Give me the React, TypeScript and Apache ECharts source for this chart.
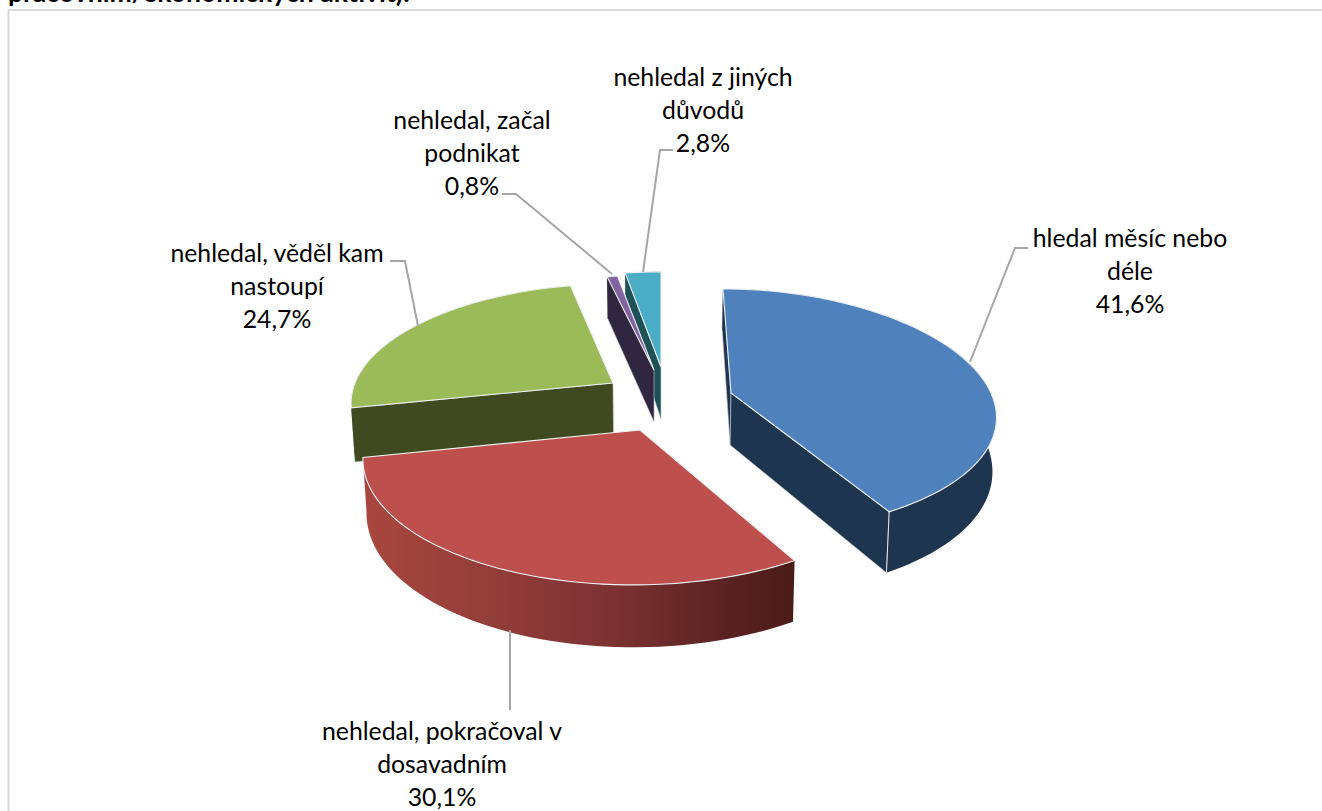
import React, { useEffect, useRef } from "react";
import * as echarts from "echarts";

const categoryLines = [
  ["hledal měsíc nebo", "déle"],
  ["nehledal, pokračoval v", "dosavadním"],
  ["nehledal, věděl kam", "nastoupí"],
  ["nehledal, začal", "podnikat"],
  ["nehledal z jiných", "důvodů"],
];
const shareValues = [41.6, 30.1, 24.7, 0.8, 2.8];
const titleTail = "pracovním/ekonomických aktivit):";

// rendering geometry of the exploded 3-D pie (not data)
type Geo = {
  ax: number; ay: number; rx: number; ry: number; p: number; px: number; sh: number;
  top: string; wall: any; face: string; rank: number; faces: number[];
  label: [number, number]; leader: number[][];
};
const VX = 660;
const HEIGHT = 52;
const redGradient = new echarts.graphic.LinearGradient(
  364, 0, 794, 0,
  [
    { offset: 0, color: "#a9473f" },
    { offset: 0.35, color: "#8e3b38" },
    { offset: 0.6, color: "#7a3031" },
    { offset: 0.8, color: "#5e2524" },
    { offset: 1, color: "#4a1b18" },
  ],
  true
);
const geometry: Geo[] = [
  { ax: 731, ay: 393, rx: 260, ry: 122, p: 0.147, px: 0.18, sh: 8, top: "#4f81bd", wall: "#1e3550", face: "#1e3550", rank: 4, faces: [0, 1], label: [1130, 238], leader: [[970, 362], [1015, 248], [1028, 248]] },
  { ax: 640, ay: 430, rx: 270, ry: 128, p: 0.21, px: 0.21, sh: -7, top: "#bd4f4c", wall: redGradient, face: "#8e3b38", rank: 5, faces: [], label: [442, 731], leader: [[510, 630], [510, 710]] },
  { ax: 613, ay: 383, rx: 258, ry: 117, p: 0.15, px: 0.15, sh: -7, top: "#9bbb59", wall: "#3f4a20", face: "#3f4a20", rank: 1, faces: [0], label: [277, 253], leader: [[418, 326], [405, 261], [390, 261]] },
  { ax: 654, ay: 370, rx: 245, ry: 112, p: 0.15, px: 0.15, sh: 0, top: "#8064a2", wall: "#30263f", face: "#30263f", rank: 3, faces: [0], label: [472, 120], leader: [[612, 274], [516, 194], [502, 194]] },
  { ax: 661, ay: 367, rx: 240, ry: 112, p: 0.15, px: 0.15, sh: 0, top: "#4bacc6", wall: "#1e5058", face: "#1e5058", rank: 2, faces: [0], label: [703, 77], leader: [[643, 272], [660, 150], [673, 150]] },
];

const FONT = '24.8px Lato, Carlito, Calibri, "Open Sans", sans-serif';
const LINE_H = 33;

function project(g: Geo, deg: number): number[] {
  const t = (deg * Math.PI) / 180;
  const c = -Math.cos(t);
  return [g.ax + g.rx * Math.sin(t) * (1 + g.px * c) + g.sh * c, g.ay + g.ry * c * (1 + g.p * c), c];
}
function drop(pt: number[], c: number): number[] {
  return [pt[0] + (VX - pt[0]) * 0.012, pt[1] + HEIGHT * (1 + 0.2 * c)];
}

function renderSlice(params: any, api: any) {
  const i = params.dataIndex;
  const value = api.value(0);
  const total = shareValues.reduce((a, b) => a + b, 0);
  const before = shareValues.slice(0, i).reduce((a, b) => a + b, 0);
  const start = (before / total) * 360;
  const end = ((before + value) / total) * 360;
  const g = geometry[i];
  const z = g.rank * 10;

  const arc: number[][] = [];
  const steps = Math.max(2, Math.ceil((end - start) / 2));
  for (let k = 0; k <= steps; k++) arc.push(project(g, start + ((end - start) * k) / steps));
  const topPts = arc.map((p) => [p[0], p[1]]);
  const botPts = arc.map((p) => drop(p, p[2]));
  const apex = [g.ax, g.ay];
  const apexB = drop([g.ax, g.ay], 0);

  const children: any[] = [];
  const ends = [0, steps];
  g.faces.forEach((f) => {
    const e = ends[f];
    children.push({
      type: "polygon", z2: z,
      shape: { points: [apex, topPts[e], botPts[e], apexB] },
      style: { fill: g.face, stroke: "#c8ccd4", lineWidth: 0.6 },
    });
  });
  children.push({
    type: "polygon", z2: z + 1,
    shape: { points: [...topPts, ...botPts.slice().reverse()] },
    style: { fill: g.wall },
  });
  if (i === 0) {
    children.push({
      type: "line", z2: z + 2,
      shape: { x1: topPts[steps][0], y1: topPts[steps][1], x2: botPts[steps][0], y2: botPts[steps][1] },
      style: { stroke: "#e4e8ee", lineWidth: 1 },
    });
  }
  children.push({
    type: "polygon", z2: z + 3,
    shape: { points: [apex, ...topPts] },
    style: { fill: g.top, stroke: "#eef0f2", lineWidth: 1.1 },
  });
  children.push({
    type: "polyline", z2: 100,
    shape: { points: g.leader },
    style: { stroke: "#a6a6a6", lineWidth: 2, fill: "none" },
  });
  const lines = [...categoryLines[i], value.toFixed(1).replace(".", ",") + "%"];
  lines.forEach((text, k) => {
    children.push({
      type: "text", z2: 101,
      style: {
        text, x: g.label[0], y: g.label[1] - 0.5 + k * LINE_H,
        align: "center", verticalAlign: "middle", font: FONT, fill: "#000000",
      },
    });
  });
  return { type: "group", children };
}

export default function App() {
  const ref = useRef<HTMLDivElement>(null);
  useEffect(() => {
    const chart = echarts.init(ref.current!, null, { renderer: "svg" });
    chart.setOption({
      animation: false,
      backgroundColor: "#ffffff",
      title: {
        text: titleTail,
        left: 8,
        top: -22,
        padding: 0,
        textStyle: { fontFamily: 'Lato, "Liberation Sans", Arial, sans-serif', fontWeight: "bold", fontSize: 26.6, color: "#000000" },
      },
      graphic: [
        { type: "line", shape: { x1: 8, y1: 10, x2: 1322, y2: 10 }, style: { stroke: "#d9d9d9", lineWidth: 2 } },
        { type: "line", shape: { x1: 8.5, y1: 10, x2: 8.5, y2: 811 }, style: { stroke: "#d9d9d9", lineWidth: 2 } },
      ],
      series: [
        {
          type: "custom",
          coordinateSystem: "none",
          renderItem: renderSlice,
          data: shareValues.map((v) => [v]),
          silent: true,
        },
      ],
    });
    return () => chart.dispose();
  }, []);
  return <div ref={ref} style={{ position: "fixed", left: 0, top: 0, width: 1322, height: 811 }} />;
}
